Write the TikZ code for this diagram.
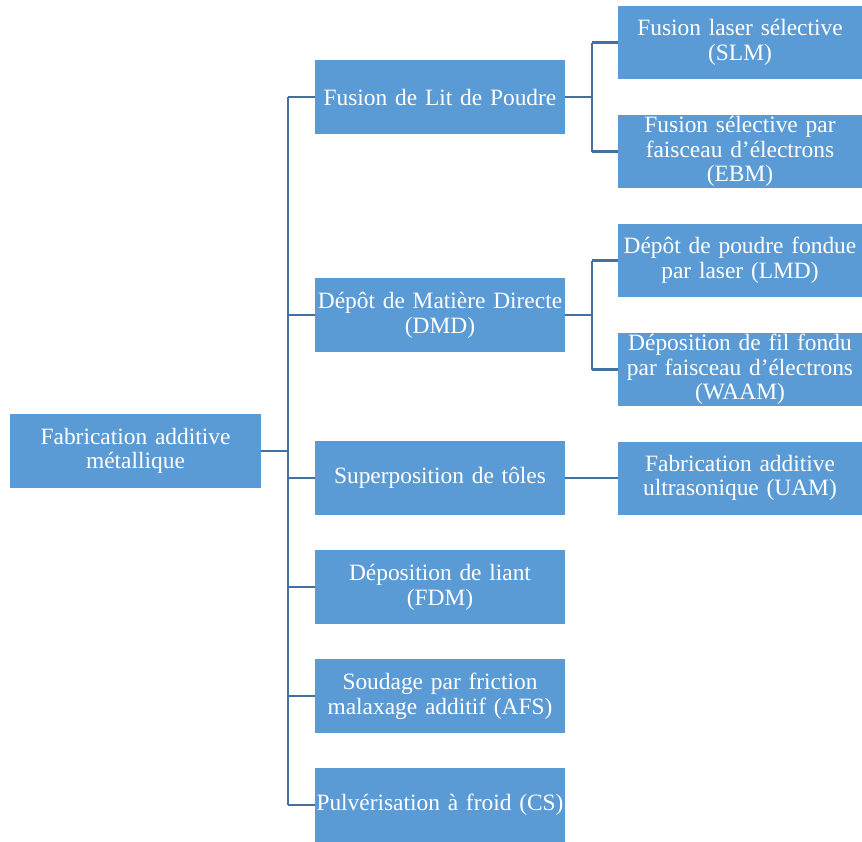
\documentclass[tikz,border=0pt]{standalone}
\usepackage{fontspec}
\setmainfont{Liberation Serif}
\definecolor{boxblue}{HTML}{5B9BD5}
\definecolor{linkblue}{HTML}{41719C}
\newcommand{\myboxend}{\par\vskip-5pt\relax}
\begin{document}
\begin{tikzpicture}[x=1pt,y=-1pt,
  box/.style={fill=boxblue,draw=none,text=white,align=center,font=\fontsize{23.4}{24.7}\selectfont,inner sep=0pt,minimum height=74pt,execute at end node=\myboxend},
  rootbox/.style={box,minimum width=251pt,text width=251pt},
  lvlone/.style={box,minimum width=250pt,text width=250pt},
  lvltwo/.style={box,minimum width=244pt,text width=244pt,minimum height=73pt},
  link/.style={draw=linkblue,line width=2.2pt}]
\useasboundingbox (0,0) rectangle (862,841);
\node[rootbox] (root) at (135.5,451) {Fabrication additive\\métallique};
\node[lvlone] (flp) at (440,97) {Fusion de Lit de Poudre};
\node[lvlone] (dmd) at (440,315) {Dépôt de Matière Directe\\(DMD)};
\node[lvlone] (sup) at (440,478) {Superposition de tôles};
\node[lvlone] (fdm) at (440,587) {Déposition de liant\\(FDM)};
\node[lvlone] (afs) at (440,696) {Soudage par friction\\malaxage additif (AFS)};
\node[lvlone] (cs) at (440,805) {Pulvérisation à froid (CS)};
\node[lvltwo] (slm) at (740,42.5) {Fusion laser sélective\\(SLM)};
\node[lvltwo] (ebm) at (740,151.5) {Fusion sélective par\\faisceau d’électrons\\(EBM)};
\node[lvltwo] (lmd) at (740,260.5) {Dépôt de poudre fondue\\par laser (LMD)};
\node[lvltwo] (waam) at (740,369.5) {Déposition de fil fondu\\par faisceau d’électrons\\(WAAM)};
\node[lvltwo] (uam) at (740,478) {Fabrication additive\\ultrasonique (UAM)};
\coordinate (trunk) at (288,0);
\coordinate (br1) at (592,0);
\draw[link] (root.east) -- (trunk |- root.east);
\draw[link] (trunk |- flp.west) -- (trunk |- cs.west);
\foreach \n in {flp,dmd,sup,fdm,afs,cs}{\draw[link] (trunk |- \n.west) -- (\n.west);}
\draw[link] (flp.east) -- (br1 |- flp.east);
\draw[link] (br1 |- slm.west) -- (br1 |- ebm.west);
\draw[link] (br1 |- slm.west) -- (slm.west);
\draw[link] (br1 |- ebm.west) -- (ebm.west);
\draw[link] (dmd.east) -- (br1 |- dmd.east);
\draw[link] (br1 |- lmd.west) -- (br1 |- waam.west);
\draw[link] (br1 |- lmd.west) -- (lmd.west);
\draw[link] (br1 |- waam.west) -- (waam.west);
\draw[link] (sup.east) -- (uam.west);
\end{tikzpicture}
\end{document}
